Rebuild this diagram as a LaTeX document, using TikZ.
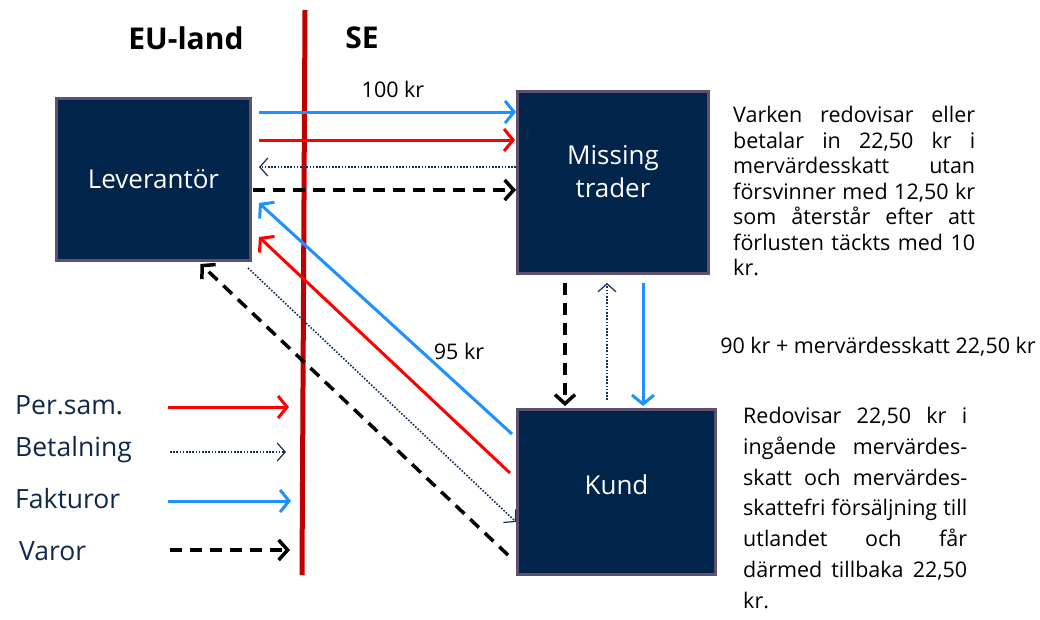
\documentclass[tikz,border=0pt]{standalone}
\usepackage{fontspec}
\setmainfont{Open Sans}
\usetikzlibrary{arrows.meta,calc}
\definecolor{boxfill}{RGB}{0,36,74}
\definecolor{boxedge}{RGB}{96,80,112}
\definecolor{fblue}{RGB}{30,144,255}
\definecolor{pred}{RGB}{255,0,0}
\definecolor{borderred}{RGB}{192,0,0}
\definecolor{dotnavy}{RGB}{20,45,85}
\definecolor{legtext}{RGB}{15,40,75}
\begin{document}
\begin{tikzpicture}[x=1pt,y=-1pt,
  box/.style={draw=boxedge,line width=3pt,fill=boxfill,inner sep=0pt},
  boxtext/.style={text=white,font=\fontsize{26}{33}\selectfont,align=center,inner sep=0pt},
  fak/.style={draw=fblue,line width=3pt,-{Straight Barb[length=9pt,width=22pt]}},
  per/.style={draw=pred,line width=3pt,-{Straight Barb[length=9pt,width=22pt]}},
  bet/.style={draw=dotnavy,line width=1.6pt,dash pattern=on 1.6pt off 1.6pt,-{Straight Barb[length=8pt,width=18pt,line width=1.2pt]}},
  var/.style={draw=black,line width=3.5pt,dash pattern=on 12pt off 8pt,-{Straight Barb[length=9pt,width=20pt]}},
  lbl/.style={font=\fontsize{21.5}{26}\selectfont,inner sep=0pt},
  leg/.style={font=\fontsize{26.5}{30}\selectfont,text=legtext,anchor=west,inner sep=0pt},
  para/.style={anchor=north west,inner sep=0pt,align=left}
]
\useasboundingbox (0,0) rectangle (1040,619);

% border line
\draw[borderred,line width=5pt] (305,10) -- (302,575);
\node[font=\bfseries\fontsize{30}{36}\selectfont,inner sep=0pt] (eu) at (186,38) {EU-land};
\node[font=\bfseries\fontsize{30}{36}\selectfont,inner sep=0pt] (se) at (362,38) {SE};

% boxes
\node[box,minimum width=194pt,minimum height=162pt] (lev) at (153.5,179.5) {};
\node[boxtext] at (lev.center) {Leverantör};
\node[box,minimum width=191pt,minimum height=182pt] (mis) at (613,182.5) {};
\node[boxtext] at ($(mis.center)+(0,-11)$) {Missing\\trader};
\node[box,minimum width=198pt,minimum height=165pt] (kund) at (616.5,492) {};
\node[boxtext] at ($(kund.center)+(0,-7)$) {Kund};

% top arrows
\draw[fak] ($(lev.east |- 0,112)+(7,0)$) -- (mis.west |- 0,112);
\draw[per] ($(lev.east |- 0,140)+(7,0)$) -- ($(mis.west |- 0,140)+(-1,0)$);
\draw[bet] (mis.west |- 0,167) -- ($(lev.east |- 0,167)+(7,0)$);
\draw[var] ($(lev.east |- 0,190)+(1,0)$) -- (mis.west |- 0,190);
\node[lbl] (l100) at (393,89) {100 kr};

% diagonal arrows
\draw[fak] ($(kund.west |- 0,434)+(-4,0)$) -- ($(lev.east |- 0,203)+(7,0)$);
\draw[per] ($(kund.west |- 0,473)+(-6,0)$) -- ($(lev.east |- 0,237)+(7,0)$);
\draw[bet] ($(lev.east |- 0,268)+(-4,0)$) -- ($(kund.west |- 0,522)+(0,0)$);
\draw[var] ($(kund.west |- 0,555)+(-8,0)$) -- ($(lev.south |- 0,264)+(47,0)$);
\node[lbl] (l95) at (459,351) {95 kr};

% vertical arrows
\draw[var] ($(mis.south |- 0,283)+(-48,0)$) -- ($(kund.north |- 0,406)+(-51.5,0)$);
\draw[bet] ($(kund.north |- 0,400)+(-9.5,0)$) -- ($(mis.south |- 0,283)+(-6,0)$);
\draw[fak] ($(mis.south |- 0,283)+(30,0)$) -- ($(kund.north |- 0,406)+(26.5,0)$);
\node[lbl] (l90) at (878,347) {90 kr + mervärdesskatt 22,50 kr};

% legend
\node[leg] (lper) at (15,405) {Per.sam.};
\coordinate (aper) at (289,407);
\draw[per] (168,407) -- (aper);
\node[leg] (lbet) at (15,450) {Betalning};
\coordinate (abet) at (286,452);
\draw[bet] (170,452) -- (abet);
\node[leg] (lfak) at (15,499) {Fakturor};
\coordinate (afak) at (291,501);
\draw[fak] (168,501) -- (afak);
\node[leg] (lvar) at (19,551) {Varor};
\coordinate (avar) at (290,550);
\draw[var] (170,550) -- (avar);

% paragraphs
\node[para,font=\fontsize{21.5}{25.5}\selectfont] (p1) at (733,106) {%
\makebox[242pt][s]{Varken redovisar eller}\\
\makebox[242pt][s]{betalar in 22,50 kr i}\\
\makebox[242pt][s]{mervärdesskatt utan}\\
\makebox[242pt][s]{försvinner med 12,50 kr}\\
\makebox[242pt][s]{som återstår efter att}\\
\makebox[242pt][s]{förlusten täckts med 10}\\
kr.};
\node[para,font=\fontsize{21.5}{30.8}\selectfont] (p2) at (743,407) {%
\makebox[224pt][s]{Redovisar 22,50 kr i}\\
\makebox[224pt][s]{ingående mervärdes-}\\
\makebox[224pt][s]{skatt och mervärdes-}\\
\makebox[224pt][s]{skattefri försäljning till}\\
\makebox[224pt][s]{utlandet och får}\\
\makebox[224pt][s]{därmed tillbaka 22,50}\\
kr.};
\end{tikzpicture}
\end{document}
